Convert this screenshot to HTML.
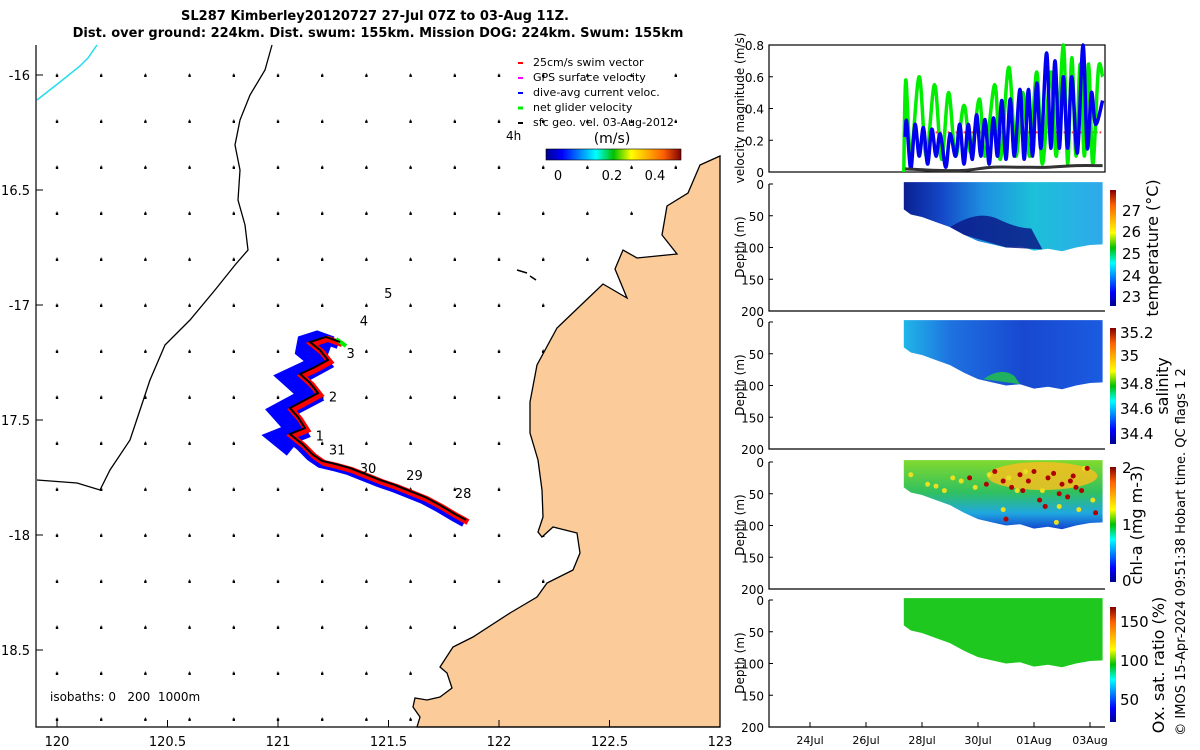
<!DOCTYPE html>
<html><head><meta charset="utf-8">
<style>
html,body{margin:0;padding:0;background:#fff;}
svg{display:block;font-family:"DejaVu Sans","Liberation Sans",sans-serif;}
</style></head>
<body>
<svg id="fig" width="1200" height="750" viewBox="0 0 1200 750" xmlns="http://www.w3.org/2000/svg">
<defs>
<linearGradient id="jet" x1="0" y1="0" x2="1" y2="0">
<stop offset="0" stop-color="#00008f"/><stop offset="0.12" stop-color="#0000ff"/><stop offset="0.37" stop-color="#00ffff"/><stop offset="0.5" stop-color="#00c000"/><stop offset="0.63" stop-color="#ffff00"/><stop offset="0.87" stop-color="#ff6000"/><stop offset="1" stop-color="#800000"/>
</linearGradient>
<linearGradient id="jetv" x1="0" y1="1" x2="0" y2="0">
<stop offset="0" stop-color="#00008f"/><stop offset="0.12" stop-color="#0000ff"/><stop offset="0.37" stop-color="#00ffff"/><stop offset="0.5" stop-color="#00c000"/><stop offset="0.63" stop-color="#ffff00"/><stop offset="0.87" stop-color="#ff6000"/><stop offset="1" stop-color="#800000"/>
</linearGradient>
<linearGradient id="tempg" x1="902" y1="0" x2="1105" y2="0" gradientUnits="userSpaceOnUse">
<stop offset="0" stop-color="#0a1e90"/><stop offset="0.2" stop-color="#1448c8"/><stop offset="0.4" stop-color="#1e90e0"/><stop offset="0.65" stop-color="#1cc0d8"/><stop offset="1" stop-color="#30a8ec"/>
</linearGradient>
<linearGradient id="salg" x1="902" y1="0" x2="1105" y2="0" gradientUnits="userSpaceOnUse">
<stop offset="0" stop-color="#20b8e8"/><stop offset="0.25" stop-color="#1e70e0"/><stop offset="0.6" stop-color="#1848d0"/><stop offset="1" stop-color="#1a5ce0"/>
</linearGradient>
<linearGradient id="chlg" x1="0" y1="462" x2="0" y2="530" gradientUnits="userSpaceOnUse">
<stop offset="0" stop-color="#7cd830"/><stop offset="0.45" stop-color="#30c060"/><stop offset="0.75" stop-color="#20a8e0"/><stop offset="1" stop-color="#1040d0"/>
</linearGradient>
</defs>

<text x="375" y="20" text-anchor="middle" font-size="13" font-weight="bold">SL287 Kimberley20120727 27-Jul 07Z to 03-Aug 11Z.</text>
<text x="378" y="37" text-anchor="middle" font-size="13" font-weight="bold">Dist. over ground: 224km. Dist. swum: 155km. Mission DOG: 224km. Swum: 155km</text>

<g id="map"></g>
<g id="right"></g>

<g font-size="11">
<text x="533" y="66">25cm/s swim vector</text>
<text x="533" y="81">GPS surface velocity</text>
<text x="533" y="96">dive-avg current veloc.</text>
<text x="533" y="111">net glider velocity</text>
<text x="533" y="126">sfc geo. vel. 03-Aug-2012</text>
<line x1="518" y1="63" x2="523" y2="63" stroke="#ff0000" stroke-width="2"/>
<line x1="518" y1="78" x2="523" y2="78" stroke="#ff00ff" stroke-width="2"/>
<line x1="518" y1="93" x2="523" y2="93" stroke="#0000ff" stroke-width="2"/>
<line x1="518" y1="108" x2="523" y2="108" stroke="#00ee00" stroke-width="3"/>
<line x1="518" y1="123" x2="523" y2="123" stroke="#000" stroke-width="2"/>
<text x="506" y="140" font-size="12">4h</text>
<text x="612" y="143" text-anchor="middle" font-size="14">(m/s)</text>
<rect x="546" y="149" width="135" height="11" fill="url(#jet)" stroke="#000" stroke-width="0.6"/>
<text x="558" y="180" text-anchor="middle" font-size="13">0</text>
<text x="612" y="180" text-anchor="middle" font-size="13">0.2</text>
<text x="655" y="180" text-anchor="middle" font-size="13">0.4</text>
</g>
<text x="50" y="701" font-size="12" xml:space="preserve">isobaths: 0   200  1000m</text>

<g font-size="15">
<rect x="1110" y="190" width="6" height="116" fill="url(#jetv)"/>
<rect x="1110" y="328" width="6" height="116" fill="url(#jetv)"/>
<rect x="1110" y="467" width="6" height="115" fill="url(#jetv)"/>
<rect x="1110" y="607" width="6" height="115" fill="url(#jetv)"/>
<text x="1122" y="216">27</text><text x="1122" y="237">26</text><text x="1122" y="259">25</text><text x="1122" y="281">24</text><text x="1122" y="302">23</text>
<text x="1120" y="338">35.2</text><text x="1120" y="361">35</text><text x="1120" y="389">34.8</text><text x="1120" y="414">34.6</text><text x="1120" y="439">34.4</text>
<text x="1122" y="473">2</text><text x="1122" y="530">1</text><text x="1122" y="586">0</text>
<text x="1120" y="627">150</text><text x="1120" y="666">100</text><text x="1120" y="705">50</text>
<text transform="translate(1158,248) rotate(-90)" text-anchor="middle" font-size="16">temperature (°C)</text>
<text transform="translate(1168,386) rotate(-90)" text-anchor="middle" font-size="16">salinity</text>
<text transform="translate(1142,525) rotate(-90)" text-anchor="middle" font-size="16">chl-a (mg m-3)</text>
<text transform="translate(1164,665) rotate(-90)" text-anchor="middle" font-size="16">Ox. sat. ratio (%)</text>
<text transform="translate(1185,552) rotate(-90)" text-anchor="middle" font-size="13">© IMOS 15-Apr-2024 09:51:38 Hobart time. QC flags 1  2</text>
</g>

<script>
// ===== MAP DATA =====
const trackLon = [121.851,121.801,121.733,121.665,121.597,121.529,121.462,121.394,121.326,121.258,121.199,121.154,121.109,121.054,121.122,121.090,121.054,121.122,121.181,121.145,121.100,121.167,121.226,121.190,121.145,121.217,121.281];
const trackLat = [-17.935,-17.909,-17.870,-17.835,-17.809,-17.783,-17.761,-17.735,-17.709,-17.691,-17.678,-17.648,-17.604,-17.561,-17.535,-17.487,-17.448,-17.413,-17.383,-17.339,-17.300,-17.270,-17.239,-17.196,-17.161,-17.139,-17.161];
const dayLabels = ["28","29","30","31","1","2","3","4","5"];
const dayLabelLon = [121.80,121.58,121.37,121.23,121.17,121.23,121.31,121.37,121.48];
const dayLabelLat = [-17.84,-17.76,-17.73,-17.65,-17.59,-17.42,-17.23,-17.09,-16.97];
const lonTicks = [120,120.5,121,121.5,122,122.5,123];
const lonTickLabels = ["120","120.5","121","121.5","122","122.5","123"];
const latTicks = [-16,-16.5,-17,-17.5,-18,-18.5];
const latTickLabels = ["-16","16.5","-17","17.5","-18","18.5"];

// ===== VELOCITY PANEL DATA =====
const greenDay = [27.35,27.42,27.6,27.9,28.15,28.45,28.7,28.95,29.2,29.5,29.75,30.05,30.25,30.6,30.8,31.1,31.35,31.6,31.85,32.1,32.3,32.6,32.8,33.05,33.2,33.35,33.5,33.65,33.8,33.95,34.1,34.3,34.45];
const greenVel = [0.0,0.58,0.1,0.6,0.1,0.55,0.08,0.5,0.1,0.42,0.12,0.46,0.1,0.55,0.08,0.66,0.1,0.5,0.1,0.63,0.05,0.63,0.1,0.8,0.05,0.72,0.1,0.68,0.1,0.68,0.05,0.65,0.6];
const blueDay = [27.4,27.45,27.6,27.75,27.9,28.05,28.2,28.35,28.5,28.65,28.85,29.0,29.2,29.35,29.5,29.65,29.8,29.95,30.1,30.25,30.4,30.55,30.7,30.85,31.0,31.15,31.3,31.5,31.65,31.8,31.95,32.1,32.25,32.45,32.6,32.75,32.9,33.05,33.2,33.35,33.55,33.75,33.9,34.05,34.2,34.45];
const blueVel = [0.22,0.32,0.02,0.3,0.1,0.28,0.05,0.27,0.1,0.24,0.03,0.24,0.1,0.3,0.05,0.3,0.08,0.36,0.1,0.33,0.05,0.34,0.1,0.45,0.08,0.46,0.1,0.52,0.08,0.52,0.1,0.56,0.15,0.75,0.15,0.7,0.15,0.6,0.15,0.6,0.12,0.8,0.15,0.5,0.3,0.45];
const blackDay = [27.4,28.5,29.5,30.5,31.5,32.5,33.5,34.45];
const blackVel = [0.02,0.01,0.01,0.03,0.03,0.03,0.04,0.04];
const swimVel = 0.25;
const velTicks = [0,0.2,0.4,0.6,0.8];
const velTickLabels = ["0","0.2","0.4","0.6","0.8"];
const dateTicks = [24,26,28,30,32,34];
const dateTickLabels = ["24Jul","26Jul","28Jul","30Jul","01Aug","03Aug"];
const depthTicks = [0,50,100,150,200];

// ===== SECTION DATA =====
const sectDay = [27.35,27.6,28.0,28.5,29.0,29.5,30.0,30.5,31.0,31.5,32.0,32.5,33.0,33.5,34.0,34.45];
const sectMaxDepth = [40,48,52,60,68,80,90,95,100,98,105,102,106,100,96,95];
const chlRedDay = [29.7,30.3,30.6,30.9,31.2,31.5,31.8,32.0,32.2,32.5,32.7,33.0,33.2,33.4,33.7,33.9,34.2,31.0,32.4,33.3,31.6,32.9,33.5];
const chlRedDepth = [25,35,15,30,40,20,30,15,60,25,18,35,55,22,45,10,80,90,70,30,45,50,40];
const chlYelDay = [27.6,28.2,28.8,29.4,29.9,30.4,31.1,31.7,32.3,32.9,33.6,34.1,30.9,31.4,32.8,33.8,28.5,29.1];
const chlYelDepth = [20,35,45,30,40,20,25,15,45,70,75,60,75,45,95,10,38,25];

// ===== SCALES =====
const lonX = l => 57 + 221*(l-120);
const latY = l => 75 + 230*(-16-l);
const dX = d => 810 + 28*(d-24);
const vY = v => 172 - 127*v/0.8;
const panelTops = [184,322,462,600];
const depY = (p,d) => p + 127*d/200;

const NS = "http://www.w3.org/2000/svg";
function mk(parent, tag, attrs, txt){
  const e = document.createElementNS(NS, tag);
  for (const k in attrs) e.setAttribute(k, attrs[k]);
  if (txt !== undefined) e.textContent = txt;
  parent.appendChild(e);
  return e;
}
function smooth(xs, ys){
  const P = xs.map((x,i)=>[x,ys[i]]);
  let d = `M${P[0][0]},${P[0][1]}`;
  for (let i = 0; i < P.length-1; i++){
    const p0 = P[Math.max(0,i-1)], p1 = P[i], p2 = P[i+1], p3 = P[Math.min(P.length-1,i+2)];
    const c1 = [p1[0]+(p2[0]-p0[0])/6, p1[1]+(p2[1]-p0[1])/6];
    const c2 = [p2[0]-(p3[0]-p1[0])/6, p2[1]-(p3[1]-p1[1])/6];
    d += ` C${c1[0]},${c1[1]} ${c2[0]},${c2[1]} ${p2[0]},${p2[1]}`;
  }
  return d;
}
const map = document.getElementById('map');
const right = document.getElementById('right');

for (let lo = 120; lo <= 122.81; lo += 0.2) {
  for (let la = -16; la >= -18.81; la -= 0.2) {
    const x = lonX(lo), y = latY(la);
    const d = mk(map,'path',{d:`M${x-0.8},${y} h1.6 v1.6 h-1.6 z M${x},${y} v-1.5`,stroke:'#000','stroke-width':0.8,fill:'#000'});
    
    
  }
}
const iso1 = mk(map,'polyline',{points:"272,45 265,70 250,95 240,120 235,145 240,170 238,200 245,225 248,250 235,265 215,290 190,320 165,345 150,380 140,410 130,440 110,470 100,490 77,483 37,480",fill:'none',stroke:'#000','stroke-width':1.3});


const iso2 = mk(map,'polyline',{points:"97,45 88,58 80,66 60,82 37,100",fill:'none',stroke:'#22ddee','stroke-width':1.5});


const land = mk(map,'polygon',{points:"720,156 700,165 688,193 667,206 662,235 677,254 637,258 623,250 615,269 627,298 603,284 580,306 557,328 537,365 530,402 530,433 538,460 542,490 543,517 538,532 542,537 553,527 577,533 580,553 573,570 547,583 537,597 510,613 473,637 453,647 440,667 447,673 452,688 440,697 427,700 415,698 413,707 420,717 417,727 720,727",fill:'#fbcc9a',stroke:'#000','stroke-width':1.3});


const isl = mk(map,'path',{d:"M517,270 l10,3 M530,276 l6,4",stroke:'#000','stroke-width':1.5});



const pts = (dx,dy,from) => trackLon.map((l,i)=>i>=(from||0)?`${lonX(l)+dx},${latY(trackLat[i])+dy}`:null).filter(Boolean).join(' ');
const bWide = mk(map,'polyline',{points:pts(-9,4,12),fill:'none',stroke:'#0000ff','stroke-width':20,'stroke-linejoin':'miter','stroke-miterlimit':2});


const bLine = mk(map,'polyline',{points:pts(-2,3),fill:'none',stroke:'#0000ff','stroke-width':8});


const rLine = mk(map,'polyline',{points:pts(2,2),fill:'none',stroke:'#ff0000','stroke-width':6});


const gMark = mk(map,'line',{x1:lonX(trackLon[26])-4,y1:latY(trackLat[26])-3,x2:lonX(trackLon[26])+6,y2:latY(trackLat[26])+4,stroke:'#00ee00','stroke-width':4});


const kLine = mk(map,'polyline',{points:pts(0,0),fill:'none',stroke:'#000','stroke-width':2});


dayLabels.forEach((t,i)=>{
  const e = mk(map,'text',{x:lonX(dayLabelLon[i]),y:latY(dayLabelLat[i]),'font-size':13},t);
  
  
});
const ax = mk(map,'path',{d:"M36,45 V727 H720",fill:'none',stroke:'#000','stroke-width':1.2});


lonTicks.forEach((l,i)=>{
  const x = lonX(l);
  const t = mk(map,'line',{x1:x,y1:727,x2:x,y2:720,stroke:'#000'});
  
  
  const e = mk(map,'text',{x:x,y:746,'text-anchor':'middle','font-size':13},lonTickLabels[i]);
  
  
});
latTicks.forEach((l,i)=>{
  const y = latY(l);
  const t = mk(map,'line',{x1:36,y1:y,x2:43,y2:y,stroke:'#000'});
  
  
  const e = mk(map,'text',{x:30,y:y+5,'text-anchor':'end','font-size':13},latTickLabels[i]);
  
  
});

// ===== VELOCITY PANEL =====
const vBox = mk(right,'rect',{x:769,y:45,width:336,height:127,fill:'none',stroke:'#000','stroke-width':1.2});


const swim = mk(right,'line',{x1:dX(28.2),y1:vY(swimVel),x2:dX(34.4),y2:vY(swimVel),stroke:'#ff3030','stroke-width':2,'stroke-dasharray':'2,2'});


const gl = mk(right,'path',{d:smooth(greenDay.map(dX),greenVel.map(vY)),fill:'none',stroke:'#00ee00','stroke-width':3.5});


const bl = mk(right,'path',{d:smooth(blueDay.map(dX),blueVel.map(vY)),fill:'none',stroke:'#0000ee','stroke-width':3.5});


const kl = mk(right,'path',{d:smooth(blackDay.map(dX),blackVel.map(vY)),fill:'none',stroke:'#333','stroke-width':3});


velTicks.forEach((v,i)=>{
  const t = mk(right,'line',{x1:769,y1:vY(v),x2:773,y2:vY(v),stroke:'#000'});
  
  
  const e = mk(right,'text',{x:764,y:vY(v)+5,'text-anchor':'end','font-size':12},velTickLabels[i]);
  
  
});
const vt = mk(right,'text',{transform:'translate(744,108) rotate(-90)','text-anchor':'middle','font-size':12},'velocity magnitude (m/s)');



// ===== DEPTH SECTIONS =====
const fills = ['url(#tempg)','url(#salg)','url(#chlg)','#1ec81e'];
const names = ['temperature-section','salinity-section','chl-section','oxygen-section'];
panelTops.forEach((p,k)=>{
  let d = `M${dX(sectDay[0])},${depY(p,-3)} L${dX(sectDay[sectDay.length-1])},${depY(p,-3)} `;
  for (let i = sectDay.length-1; i >= 0; i--) d += `L${dX(sectDay[i])},${depY(p,sectMaxDepth[i])} `;
  d += 'Z';
  const s = mk(right,'path',{d:d,fill:fills[k]});
  
  
  if (k === 0) {
    const dk = mk(right,'path',{d:`M${dX(29.0)},${depY(p,68)} Q${dX(30.0)},${depY(p,40)} ${dX(30.7)},${depY(p,55)} T${dX(31.9)},${depY(p,70)} L${dX(32.3)},${depY(p,103)} L${dX(31.0)},${depY(p,100)} L${dX(29.5)},${depY(p,80)} Z`,fill:'#0a1a88',opacity:0.85});
    
    
  }
  if (k === 1) {
    const dk = mk(right,'path',{d:`M${dX(30.2)},${depY(p,90)} Q${dX(30.8)},${depY(p,70)} ${dX(31.3)},${depY(p,85)} L${dX(31.5)},${depY(p,98)} Z`,fill:'#20b060'});
    
    
  }
  if (k === 2) {
    const hot = mk(right,'ellipse',{cx:dX(32.3),cy:depY(p,22),rx:55,ry:14,fill:'#f5c020',opacity:0.85});
    
    
    chlYelDay.forEach((dd,i)=>{
      const c = mk(right,'circle',{cx:dX(dd),cy:depY(p,chlYelDepth[i]),r:2.5,fill:'#e8e020'});
      
      
    });
    chlRedDay.forEach((dd,i)=>{
      const c = mk(right,'circle',{cx:dX(dd),cy:depY(p,chlRedDepth[i]),r:2.5,fill:'#b00000'});
      
      
    });
  }
  const a = mk(right,'path',{d:`M769,${p} V${p+127} H1105`,fill:'none',stroke:'#000','stroke-width':1.2});
  
  
  depthTicks.forEach(v=>{
    const t = mk(right,'line',{x1:769,y1:depY(p,v),x2:773,y2:depY(p,v),stroke:'#000'});
    
    
    const e = mk(right,'text',{x:764,y:depY(p,v)+5,'text-anchor':'end','font-size':12},String(v));
    
    
  });
  const ti = mk(right,'text',{transform:`translate(744,${p+63}) rotate(-90)`,'text-anchor':'middle','font-size':12},'Depth (m)');
  
  
});
dateTicks.forEach((d,i)=>{
  const t = mk(right,'line',{x1:dX(d),y1:727,x2:dX(d),y2:722,stroke:'#000'});
  
  
  const e = mk(right,'text',{x:dX(d),y:744,'text-anchor':'middle','font-size':11},dateTickLabels[i]);
  
  
});
</script>
</svg>
</body></html>
